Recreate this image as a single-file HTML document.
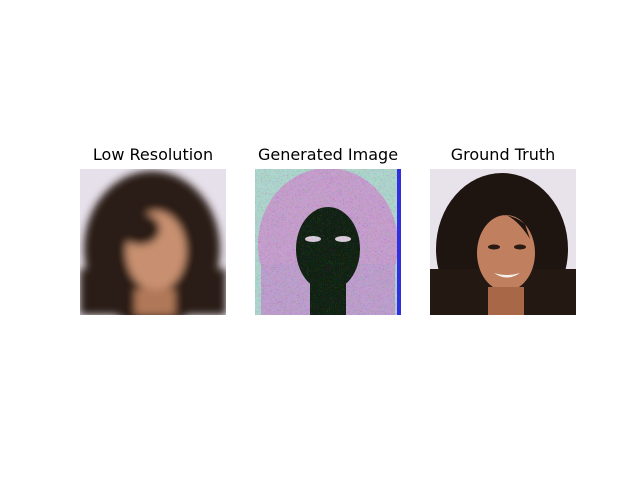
<!DOCTYPE html>
<html><head><meta charset="utf-8"><style>
body{margin:0;background:#fff;width:640px;height:480px;overflow:hidden;font-family:"DejaVu Sans","Liberation Sans",sans-serif}
.t{position:absolute;font-size:16px;color:#000;text-align:center;width:200px}
svg{position:absolute}
</style></head><body>
<div class="t" style="left:53px;top:145px">Low Resolution</div>
<div class="t" style="left:228px;top:145px">Generated Image</div>
<div class="t" style="left:403px;top:145px">Ground Truth</div>

<svg style="left:80px;top:169px" width="146" height="146">
<defs><filter id="b"><feGaussianBlur stdDeviation="4"/></filter></defs>
<rect width="146" height="146" fill="#e6e0ea"/>
<g filter="url(#b)">
<ellipse cx="72" cy="80" rx="68" ry="78" fill="#2a1e18"/>
<rect x="0" y="100" width="146" height="46" fill="#2a1e18"/>
<ellipse cx="76" cy="82" rx="30" ry="40" fill="#c89070"/>
<rect x="55" y="120" width="40" height="26" fill="#b07858"/>
<ellipse cx="60" cy="60" rx="20" ry="16" fill="#2a1e18"/>
</g></svg>

<svg style="left:255px;top:169px" width="146" height="146">
<defs><filter id="n"><feTurbulence baseFrequency="0.5" numOctaves="1" seed="3"/><feColorMatrix type="saturate" values="3"/><feComponentTransfer><feFuncA type="linear" slope="0.35"/></feComponentTransfer><feComposite in2="SourceGraphic" operator="in"/></filter></defs>
<rect width="146" height="146" fill="#b0d8d0"/>
<ellipse cx="73" cy="75" rx="70" ry="76" fill="#c8a0d0"/>
<rect x="6" y="95" width="134" height="51" fill="#c0a0d0"/>
<ellipse cx="73" cy="80" rx="32" ry="42" fill="#0e2010"/>
<rect x="55" y="115" width="36" height="31" fill="#0e2010"/>
<ellipse cx="58" cy="70" rx="8" ry="3" fill="#e0d0e0"/>
<ellipse cx="88" cy="70" rx="8" ry="3" fill="#e0d0e0"/>
<rect width="146" height="146" fill="#fff" filter="url(#n)"/>
<rect x="142" y="0" width="4" height="146" fill="#3030e0"/>
</svg>

<svg style="left:430px;top:169px" width="146" height="146">
<rect width="146" height="146" fill="#e8e2ea"/>
<ellipse cx="72" cy="80" rx="66" ry="76" fill="#1e1410"/>
<rect x="0" y="100" width="146" height="46" fill="#241812"/>
<ellipse cx="76" cy="84" rx="29" ry="38" fill="#c08060"/>
<rect x="58" y="118" width="36" height="28" fill="#a86848"/>
<path d="M45 50 Q75 30 100 70 L95 55 Q70 35 45 60Z" fill="#1e1410"/>
<ellipse cx="64" cy="78" rx="6" ry="2.5" fill="#2a1a14"/>
<ellipse cx="90" cy="78" rx="6" ry="2.5" fill="#2a1a14"/>
<path d="M64 104 Q77 113 90 104 Q77 108 64 104Z" fill="#f4f0ec"/>
</svg>
</body></html>
